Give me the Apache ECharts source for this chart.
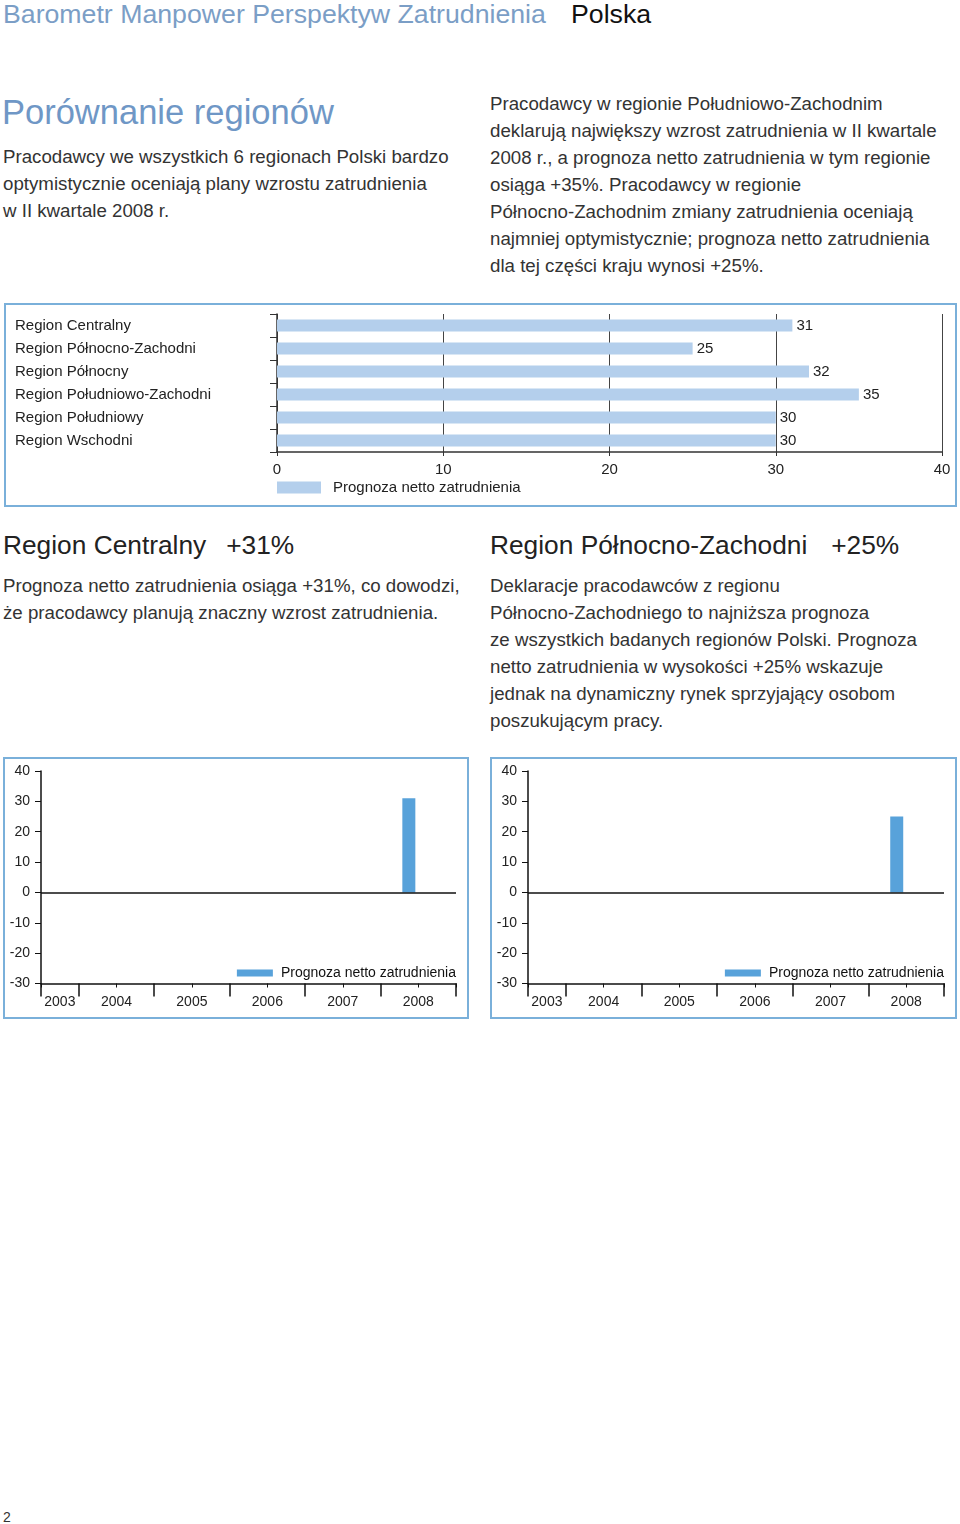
<!DOCTYPE html>
<html lang="pl">
<head>
<meta charset="utf-8">
<title>Porównanie regionów</title>
<script src="https://cdn.jsdelivr.net/npm/echarts@6/dist/echarts.min.js"></script>
<style>
  html, body { margin: 0; padding: 0; background: #fff; }
  body {
    position: relative;
    width: 960px;
    height: 1524px;
    overflow: hidden;
    font-family: "Liberation Sans", Arial, sans-serif;
    color: #333;
  }
  .t { position: absolute; white-space: nowrap; }
  .para { font-size: 18.7px; line-height: 27px; color: #333; }
  .head { font-size: 26.3px; color: #222; line-height: 34px; }
  .box { position: absolute; box-sizing: border-box; border: 2px solid #7ab0da; }
  .chart { position: absolute; }
</style>
</head>
<body>

<div class="t" style="left:3px;top:-2px;font-size:26.7px;line-height:32px;color:#7b9ec6;">Barometr Manpower Perspektyw Zatrudnienia</div>
<div class="t" style="left:571px;top:-2px;font-size:26.7px;line-height:32px;color:#111;">Polska</div>

<div class="t" style="left:2px;top:91px;font-size:34.5px;line-height:42px;color:#6f97c6;">Porównanie regionów</div>
<div class="t para" style="left:3px;top:143px;">Pracodawcy we wszystkich 6 regionach Polski bardzo<br>optymistycznie oceniają plany wzrostu zatrudnienia<br>w II kwartale 2008 r.</div>

<div class="t para" style="left:490px;top:90px;">Pracodawcy w regionie Południowo-Zachodnim<br>deklarują największy wzrost zatrudnienia w II kwartale<br>2008 r., a prognoza netto zatrudnienia w tym regionie<br>osiąga +35%. Pracodawcy w regionie<br>Północno-Zachodnim zmiany zatrudnienia oceniają<br>najmniej optymistycznie; prognoza netto zatrudnienia<br>dla tej części kraju wynosi +25%.</div>

<div class="box" style="left:4px;top:303px;width:953px;height:204px;"></div>
<div id="regions" class="chart" style="left:4px;top:303px;width:953px;height:204px;"></div>

<div class="t head" style="left:3px;top:528px;">Region Centralny<span style="margin-left:20px;">+31%</span></div>
<div class="t para" style="left:3px;top:572px;">Prognoza netto zatrudnienia osiąga +31%, co dowodzi,<br>że pracodawcy planują znaczny wzrost zatrudnienia.</div>

<div class="t head" style="left:490px;top:528px;">Region Północno-Zachodni<span style="margin-left:24px;">+25%</span></div>
<div class="t para" style="left:490px;top:572px;">Deklaracje pracodawców z regionu<br>Północno-Zachodniego to najniższa prognoza<br>ze wszystkich badanych regionów Polski. Prognoza<br>netto zatrudnienia w wysokości +25% wskazuje<br>jednak na dynamiczny rynek sprzyjający osobom<br>poszukującym pracy.</div>

<div class="box" style="left:3px;top:757px;width:466px;height:262px;"></div>
<div id="central" class="chart" style="left:3px;top:757px;width:466px;height:262px;"></div>

<div class="box" style="left:490px;top:757px;width:467px;height:262px;"></div>
<div id="northwest" class="chart" style="left:490px;top:757px;width:467px;height:262px;"></div>

<div class="t" style="left:3px;top:1509px;font-size:14px;line-height:16px;color:#333;">2</div>

<script>
// regional comparison, II kwartał 2008
const regions = [
  "Region Centralny",
  "Region Północno-Zachodni",
  "Region Północny",
  "Region Południowo-Zachodni",
  "Region Południowy",
  "Region Wschodni",
];
const regionForecast = [31, 25, 32, 35, 30, 30];
const regionAxis = { min: 0, max: 40, interval: 10 };

// quarterly history, 2003 Q3 .. 2008 Q4
const quarters = [
  "2003 Q3", "2003 Q4",
  "2004 Q1", "2004 Q2", "2004 Q3", "2004 Q4",
  "2005 Q1", "2005 Q2", "2005 Q3", "2005 Q4",
  "2006 Q1", "2006 Q2", "2006 Q3", "2006 Q4",
  "2007 Q1", "2007 Q2", "2007 Q3", "2007 Q4",
  "2008 Q1", "2008 Q2", "2008 Q3", "2008 Q4",
];
// year labels sit on quarter boundaries (23 boundaries for 22 quarters)
const yearMarks = [
  "", "2003", "",
  "", "2004", "", "",
  "", "2005", "", "",
  "", "2006", "", "",
  "", "2007", "", "",
  "", "2008", "", "",
];
const yearBoundaries = [0, 2, 6, 10, 14, 18, 22];
const centralForecast = [
  null, null,
  null, null, null, null,
  null, null, null, null,
  null, null, null, null,
  null, null, null, null,
  null, 31, null, null,
];
const northwestForecast = [
  null, null,
  null, null, null, null,
  null, null, null, null,
  null, null, null, null,
  null, null, null, null,
  null, 25, null, null,
];
const historyAxis = { min: -30, max: 40, interval: 10 };

const seriesName = "Prognoza netto zatrudnienia";
const font = "Liberation Sans";
const ink = "#222";

function regionChart() {
  const chart = echarts.init(document.getElementById("regions"));
  chart.setOption({
    animation: false,
    textStyle: { fontFamily: font },
    grid: { left: 273, top: 11, width: 665, height: 138 },
    legend: {
      left: 273,
      top: 177,
      padding: 0,
      icon: "rect",
      itemWidth: 44,
      itemHeight: 12,
      textStyle: { fontSize: 15, color: ink, padding: [0, 0, 0, 7] },
      data: [seriesName],
    },
    xAxis: {
      type: "value",
      min: regionAxis.min,
      max: regionAxis.max,
      interval: regionAxis.interval,
      axisLine: { show: true, lineStyle: { color: "#333", width: 1.5 } },
      axisTick: { show: true, length: 4, lineStyle: { color: "#333" } },
      axisLabel: { color: ink, fontSize: 15, margin: 10 },
      splitLine: { show: true, lineStyle: { color: "#444", width: 1 } },
    },
    yAxis: {
      type: "category",
      inverse: true,
      data: regions,
      axisLine: { show: true, lineStyle: { color: "#333", width: 1.5 } },
      axisTick: { show: true, length: 7, lineStyle: { color: "#333" } },
      axisLabel: { color: ink, fontSize: 15, align: "left", margin: 262 },
    },
    series: [
      {
        name: seriesName,
        type: "bar",
        barWidth: 12,
        itemStyle: { color: "#b4cfec" },
        label: {
          show: true,
          position: "right",
          distance: 4,
          color: ink,
          fontSize: 15,
        },
        data: regionForecast,
      },
    ],
  });
}

function historyChart(id, values) {
  const chart = echarts.init(document.getElementById(id));
  chart.setOption({
    animation: false,
    textStyle: { fontFamily: font },
    grid: { left: 38, top: 14, right: 13, height: 212.5 },
    legend: {
      right: 13,
      top: 209,
      padding: 0,
      icon: "rect",
      itemWidth: 36,
      itemHeight: 7,
      textStyle: { fontSize: 14, color: "#111", padding: [0, 0, 0, 3] },
      data: [seriesName],
    },
    xAxis: [
      {
        type: "category",
        data: quarters,
        position: "bottom",
        axisLine: { show: true, onZero: false, lineStyle: { color: "#111", width: 1.5 } },
        axisTick: { show: true, length: 4, lineStyle: { color: "#111" } },
        axisLabel: { show: false },
      },
      {
        type: "category",
        data: yearMarks,
        position: "bottom",
        boundaryGap: false,
        axisLine: { show: false, onZero: false },
        axisTick: {
          show: true,
          length: 13,
          interval: (idx) => yearBoundaries.includes(idx),
          lineStyle: { color: "#111", width: 1.5 },
        },
        axisLabel: { interval: 0, color: ink, fontSize: 14, margin: 12 },
      },
    ],
    yAxis: {
      type: "value",
      min: historyAxis.min,
      max: historyAxis.max,
      interval: historyAxis.interval,
      axisLine: { show: true, lineStyle: { color: "#111", width: 1.5 } },
      axisTick: { show: true, length: 6, lineStyle: { color: "#111" } },
      axisLabel: { color: ink, fontSize: 14, margin: 11 },
      splitLine: { show: false },
    },
    series: [
      {
        name: seriesName,
        type: "bar",
        xAxisIndex: 0,
        barWidth: 13,
        itemStyle: { color: "#58a2da" },
        data: values,
        markLine: {
          silent: true,
          symbol: ["none", "none"],
          label: { show: false },
          lineStyle: { color: "#111", width: 1.5, type: "solid" },
          data: [{ yAxis: 0 }],
        },
      },
    ],
  });
}

regionChart();
historyChart("central", centralForecast);
historyChart("northwest", northwestForecast);
</script>
</body>
</html>
